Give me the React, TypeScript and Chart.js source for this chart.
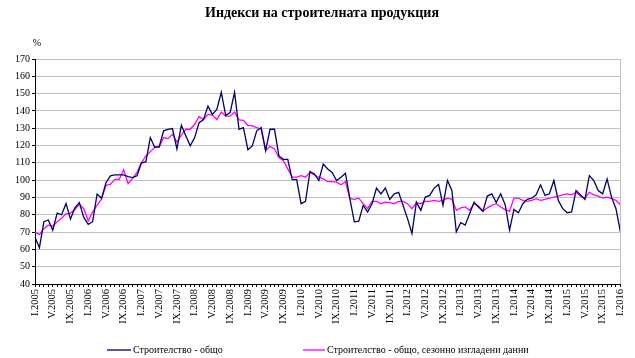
import React, { useEffect, useRef } from "react";
import { Chart, registerables } from "chart.js";

Chart.register(...registerables);

const romanMonths = ["I", "II", "III", "IV", "V", "VI", "VII", "VIII", "IX", "X", "XI", "XII"];
const years = [2005, 2006, 2007, 2008, 2009, 2010, 2011, 2012, 2013, 2014, 2015, 2016];

const categories: string[] = [];
years.forEach((y) => {
  romanMonths.forEach((m) => {
    if (y < 2016 || m === "I") categories.push(m + "." + y);
  });
});

const constructionTotal = [
  67, 61, 76, 77, 71, 81, 80, 86.5, 77.5, 84, 87, 78.5,
  74.5, 76, 92, 89.5, 98.5, 102.5, 103, 103, 103, 102, 101.5, 102.5,
  110, 110.5, 124.6, 119, 119.3, 128.5, 129.4, 129.8, 118, 131.7, 125.6, 119.8,
  124.6, 133.2, 135, 142.8, 138, 140.9, 150.8, 137.4, 139, 150.8, 129.4, 130.4,
  117.6, 119.8, 128.5, 130.4, 117, 129.4, 129.4, 114, 112, 112, 100.3, 100.3,
  86.4, 87.7, 105, 103.6, 99.8, 109.3, 106.5, 104.5, 99.8, 101.7, 104, 89.3,
  75.9, 76.3, 85.4, 81.6, 86.4, 95.4, 92.1, 95.4, 88.9, 92.1, 93, 85.4,
  77.8, 69.2, 87.3, 82.6, 90.2, 91.2, 95.4, 97.5, 85.4, 99.8, 94, 70.1,
  75.5, 74, 80.6, 87.3, 84.5, 82, 90.8, 92.1, 87, 92.1, 86, 71.1,
  83.1, 81.2, 86.4, 88.9, 89.6, 91.5, 97.3, 91.2, 92.1, 99.8, 88.3, 83.5,
  81.2, 81.6, 94, 91.5, 88.9, 102.6, 99.8, 94, 92.1, 100.7, 90.2, 83.5,
  70.1,
];

const constructionSeasonal = [
  70, 68.5, 72, 74, 73.5, 76, 78, 80.5, 81, 83, 86, 83.5,
  76.5, 81.5, 85.5, 89, 97, 97.5, 100.5, 100.5, 106, 98, 101, 104.5,
  110, 114, 116.5, 118.9, 119, 124.6, 124, 126.5, 122, 126, 129.4, 129.4,
  132.3, 136.7, 135, 138, 137.6, 135, 139.3, 137, 137, 139.3, 134.8, 134.6,
  131.7, 131.3, 130.4, 129.4, 117, 119.5, 118, 113, 111.2, 106.5, 101.7, 101.7,
  102.6, 101.7, 104.5, 103, 101.7, 100.7, 99.2, 99.2, 98.8, 97.3, 99.2, 89.3,
  88.9, 89.6, 86.4, 83.5, 87.7, 87.7, 86.4, 87.3, 87, 86.4, 87.7, 87.7,
  86.4, 83.5, 87, 86.4, 87.7, 87.7, 88.3, 87.7, 88.3, 89.6, 88.9, 82.6,
  84, 84.5, 82.6, 86.4, 85, 82, 84, 85.4, 86.4, 84.5, 83, 82,
  89.6, 89.6, 88.3, 87.7, 88.3, 89.3, 88.3, 88.9, 89.6, 90.2, 90.8, 91.5,
  92.1, 91.5, 93, 90.8, 89.6, 93, 91.5, 90.8, 89.6, 90.2, 89.3, 88.3,
  85.8,
];

const seriesNames = ["Строителство - общо", "Строителство - общо, сезонно изгладени данни"];
const seriesColors = ["#000066", "#ff00ff"];
const titleText = "Индекси на строителната продукция";
const unitText = "%";

const SERIF = "'Liberation Serif', 'Times New Roman', serif";

const decorPlugin = {
  id: "decor",
  afterDraw(chart: any) {
    const ctx = chart.ctx;
    const area = chart.chartArea;
    ctx.save();
    // right border
    ctx.strokeStyle = "#c0c0c0";
    ctx.lineWidth = 1;
    ctx.beginPath();
    ctx.moveTo(Math.round(area.right) + 0.5, area.top);
    ctx.lineTo(Math.round(area.right) + 0.5, area.bottom);
    ctx.stroke();
    // title
    ctx.fillStyle = "#000";
    ctx.font = "bold 14px " + SERIF;
    ctx.textAlign = "center";
    ctx.textBaseline = "middle";
    ctx.fillText(titleText, 322, 13);
    // unit
    ctx.font = "10px " + SERIF;
    ctx.fillText(unitText, 37, 43);
    // legend
    ctx.font = "10px " + SERIF;
    ctx.textAlign = "left";
    const items = [
      { x0: 107, x1: 131, tx: 133 },
      { x0: 303, x1: 325, tx: 327 },
    ];
    const ly = 350;
    items.forEach((it, i) => {
      ctx.strokeStyle = seriesColors[i];
      ctx.lineWidth = 1.3;
      ctx.beginPath();
      ctx.moveTo(it.x0, ly);
      ctx.lineTo(it.x1, ly);
      ctx.stroke();
      ctx.fillStyle = "#000";
      ctx.fillText(seriesNames[i], it.tx, ly);
    });
    ctx.restore();
  },
};

export default function App() {
  const canvasRef = useRef<HTMLCanvasElement | null>(null);

  useEffect(() => {
    if (!canvasRef.current) return;
    const chart = new Chart(canvasRef.current, {
      type: "line",
      data: {
        labels: categories,
        datasets: [
          {
            label: seriesNames[0],
            data: constructionTotal,
            borderColor: seriesColors[0],
            backgroundColor: seriesColors[0],
            borderWidth: 1.3,
            pointRadius: 0,
            tension: 0,
          },
          {
            label: seriesNames[1],
            data: constructionSeasonal,
            borderColor: seriesColors[1],
            backgroundColor: seriesColors[1],
            borderWidth: 1.3,
            pointRadius: 0,
            tension: 0,
          },
        ],
      },
      options: {
        animation: false,
        responsive: false,
        maintainAspectRatio: false,
        layout: { padding: { left: 0, right: 11, top: 59, bottom: 0 } },
        plugins: {
          legend: { display: false },
          title: { display: false },
          tooltip: { enabled: false },
        },
        scales: {
          x: {
            type: "category",
            offset: false,
            afterFit: (s: any) => {
              s.height = 74;
            },
            grid: {
              display: true,
              drawOnChartArea: false,
              drawTicks: true,
              tickLength: 3,
              tickColor: "#000",
            },
            border: { display: true, color: "#000", width: 1 },
            ticks: {
              autoSkip: false,
              minRotation: 90,
              maxRotation: 90,
              padding: 2,
              color: "#000",
              font: { family: SERIF, size: 10.5 },
              callback: (_v: any, i: number) => (i % 4 === 0 ? categories[i] : ""),
            },
          },
          y: {
            min: 40,
            max: 170,
            afterFit: (s: any) => {
              s.width = 35;
            },
            grid: {
              color: "#c0c0c0",
              lineWidth: 1,
              drawTicks: true,
              tickLength: 3,
              tickColor: "#000",
            },
            border: { display: true, color: "#000", width: 1 },
            ticks: {
              stepSize: 10,
              padding: 2,
              color: "#000",
              font: { family: SERIF, size: 10 },
            },
          },
        },
      },
      plugins: [decorPlugin],
    });
    return () => chart.destroy();
  }, []);

  return (
    <div style={{ position: "fixed", left: 0, top: 0, width: 635, height: 358, background: "#fff" }}>
      <canvas ref={canvasRef} width={635} height={358} style={{ display: "block" }} />
    </div>
  );
}
